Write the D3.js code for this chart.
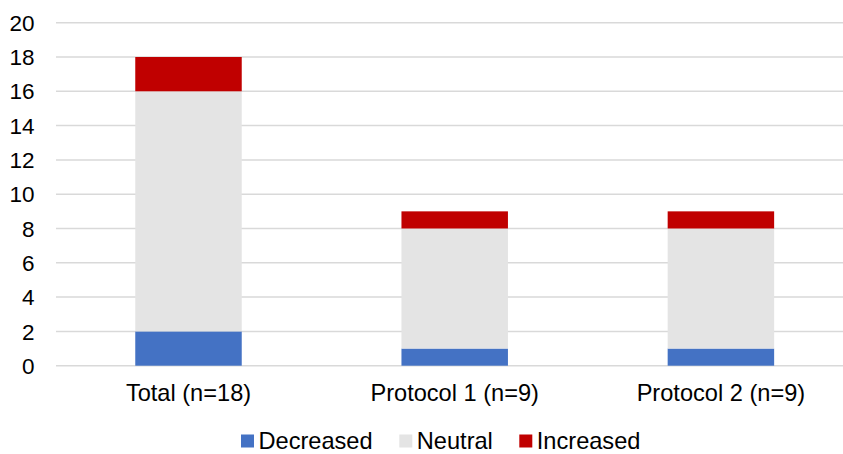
<!DOCTYPE html>
<html>
<head>
<meta charset="utf-8">
<script src="https://cdn.jsdelivr.net/npm/d3@7"></script>
<style>
  html, body { margin: 0; padding: 0; background: #fff; }
  svg { display: block; }
  text { font-family: "Liberation Sans", Arial, sans-serif; fill: #000; }
</style>
</head>
<body>
<div id="chart"></div>
<script>
// Group labels and stacked counts per group
const categories = ["Total (n=18)", "Protocol 1 (n=9)", "Protocol 2 (n=9)"];
const seriesNames = ["Decreased", "Neutral", "Increased"];
const decreased = [2, 1, 1];
const neutral = [14, 7, 7];
const increased = [2, 1, 1];
const yTicks = [0, 2, 4, 6, 8, 10, 12, 14, 16, 18, 20];
const colors = ["#4472C4", "#E4E4E4", "#C00000"];

const W = 843, H = 454;
const svg = d3.select("#chart").append("svg").attr("width", W).attr("height", H);

const rows = categories.map((c, i) => ({
  cat: c, Decreased: decreased[i], Neutral: neutral[i], Increased: increased[i]
}));
const stacked = d3.stack().keys(seriesNames)(rows);

const x = d3.scaleBand().domain(categories).range([55.4, 854])
  .paddingInner(0.6).paddingOuter(0.3);
const y = d3.scaleLinear().domain([0, 20]).range([365.7, 22.7]);

// horizontal gridlines
svg.append("g").selectAll("line").data(yTicks).join("line")
  .attr("x1", 56).attr("x2", W)
  .attr("y1", d => y(d)).attr("y2", d => y(d))
  .attr("stroke", "#D9D9D9").attr("stroke-width", 1.5);

// y tick labels
svg.append("g").selectAll("text").data(yTicks).join("text")
  .attr("x", 34.5).attr("y", d => y(d)).attr("dy", "0.36em")
  .attr("text-anchor", "end").attr("font-size", "22.5px")
  .text(d => d);

// stacked bars
svg.append("g").selectAll("g").data(stacked).join("g")
  .attr("fill", (d, i) => colors[i])
  .selectAll("rect").data(d => d).join("rect")
  .attr("x", d => x(d.data.cat))
  .attr("width", x.bandwidth())
  .attr("y", d => y(d[1]))
  .attr("height", d => y(d[0]) - y(d[1]));

// category labels
svg.append("g").selectAll("text").data(categories).join("text")
  .attr("x", d => x(d) + x.bandwidth() / 2).attr("y", 401)
  .attr("text-anchor", "middle").attr("font-size", "23.6px")
  .text(d => d);

// legend, kept just inside the bottom edge
const legendX = [241, 399.3, 519.3];
const leg = svg.append("g").selectAll("g").data(seriesNames).join("g")
  .attr("transform", (d, i) => `translate(${legendX[i]},0)`);
leg.append("rect").attr("x", 0).attr("y", 434.5).attr("width", 13).attr("height", 13)
  .attr("fill", (d, i) => colors[i]);
leg.append("text").attr("x", 17.5).attr("y", 449.2).attr("font-size", "23.6px")
  .text(d => d);
</script>
</body>
</html>
